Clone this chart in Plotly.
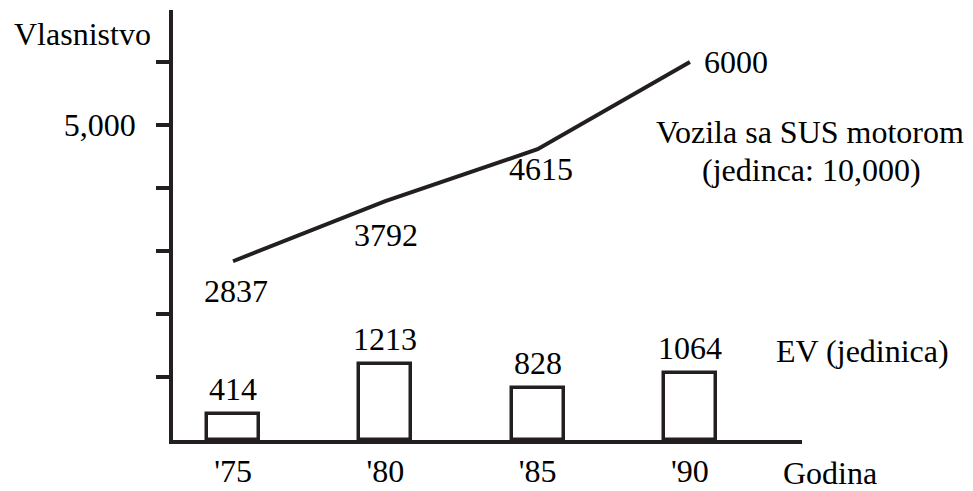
import plotly.graph_objects as go

# ---- data ----
years = ["'75", "'80", "'85", "'90"]
ice_vehicles = [2837, 3792, 4615, 6000]   # units: 10,000
ev_vehicles = [414, 1213, 828, 1064]      # units
y_tick_vals = [1000, 2000, 3000, 4000, 5000, 6000]
y_tick_text = ["", "", "", "", "5,000", ""]

INK = "#231f20"
FONT = "Liberation Serif, Times New Roman, serif"
FS = 32

W, H = 973, 491
L, R, T, B = 173, 171, 10, 51
PW, PH = W - L - R, H - T - B

# label placement (pixels)
line_label_shift = [(3, -30), (1, -34), (3, -20), (12, 0)]
bar_label_shift = 25


def px(x):
    return (x - L) / PW


def py(y):
    return (H - B - y) / PH


xpos = list(range(len(years)))

fig = go.Figure()

fig.add_trace(go.Bar(
    x=xpos, y=ev_vehicles, width=0.34,
    marker=dict(color="white", line=dict(color=INK, width=3.5)),
    showlegend=False, hoverinfo="skip",
))

fig.add_trace(go.Scatter(
    x=xpos, y=ice_vehicles, mode="lines",
    line=dict(color=INK, width=4),
    showlegend=False, hoverinfo="skip",
))

annotations = []
# bar value labels
for xi, v in zip(xpos, ev_vehicles):
    annotations.append(dict(x=xi, y=v, xref="x", yref="y", text=str(v),
                            showarrow=False, yanchor="middle", yshift=bar_label_shift,
                            font=dict(family=FONT, size=FS, color="black")))
# line value labels
last = len(xpos) - 1
for i, (xi, v) in enumerate(zip(xpos, ice_vehicles)):
    dx, dy = line_label_shift[i]
    annotations.append(dict(x=xi, y=v, xref="x", yref="y", text=str(v),
                            showarrow=False,
                            xanchor="left" if i == last else "center",
                            yanchor="middle", xshift=dx, yshift=dy,
                            font=dict(family=FONT, size=FS, color="black")))

texts = [
    ("Vlasnistvo", 82.5, 34),
    ("Vozila sa SUS motorom", 810, 132),
    ("(jedinca: 10,000)", 811, 170),
    ("EV (jedinica)", 862, 351),
    ("Godina", 830, 473),
]
for t, x, y in texts:
    annotations.append(dict(x=px(x), y=py(y), xref="paper", yref="paper", text=t,
                            showarrow=False, xanchor="center", yanchor="middle",
                            font=dict(family=FONT, size=FS, color="black")))

fig.update_layout(
    width=W, height=H,
    margin=dict(l=L, r=R, t=T, b=B, pad=0, autoexpand=False),
    paper_bgcolor="white", plot_bgcolor="white",
    font=dict(family=FONT, size=FS, color="black"),
    bargap=0,
    annotations=annotations,
    xaxis=dict(
        range=[-0.394, 3.736], tickvals=xpos, ticktext=years,
        showline=True, linewidth=3.5, linecolor=INK,
        ticks="", showgrid=False, zeroline=False, automargin=False,
        tickfont=dict(family=FONT, size=FS, color="black"),
        ticklabelstandoff=0, fixedrange=True,
    ),
    yaxis=dict(
        range=[0, 6825], tickvals=y_tick_vals, ticktext=y_tick_text,
        showline=True, linewidth=3.5, linecolor=INK,
        ticks="outside", ticklen=13, tickwidth=3.5, tickcolor=INK,
        showgrid=False, zeroline=False, automargin=False,
        tickfont=dict(family=FONT, size=FS, color="black"),
        ticklabelstandoff=14, fixedrange=True,
    ),
)

fig.write_html(
    "out.html",
    config={"displayModeBar": False},
    post_script="document.body.style.margin='0';document.body.style.overflow='hidden';",
)
